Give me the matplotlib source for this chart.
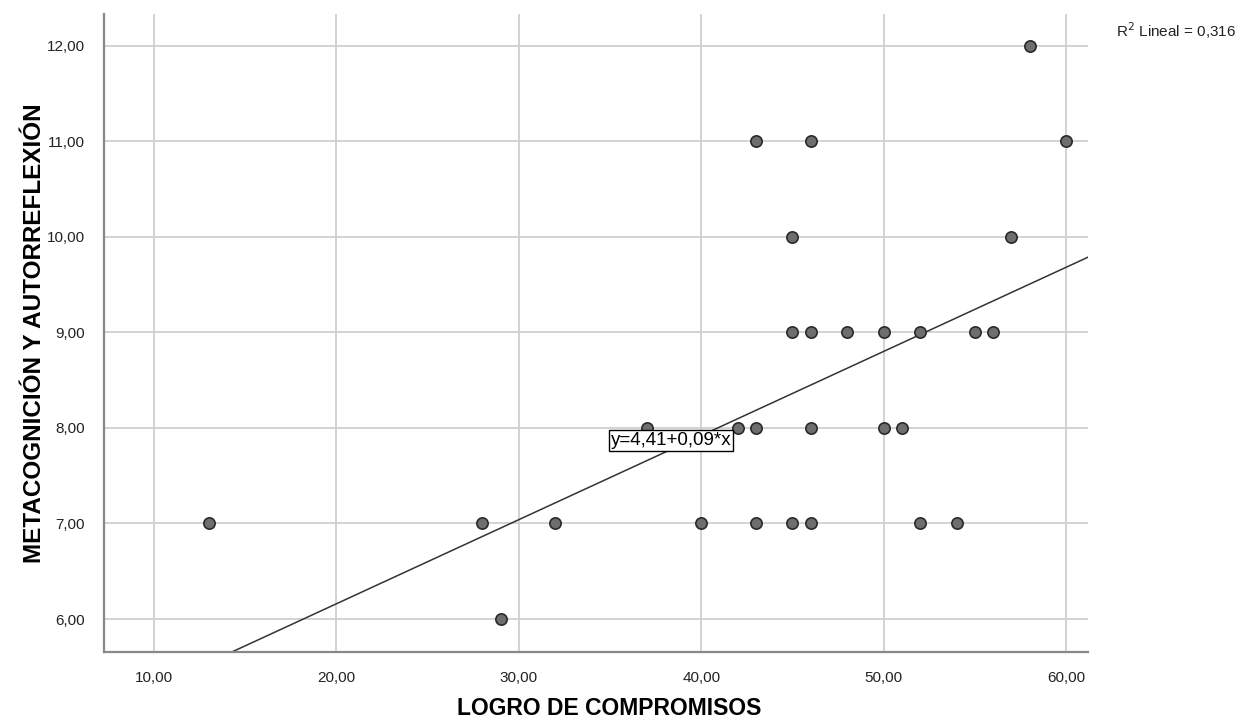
import matplotlib.pyplot as plt
import numpy as np

plt.rcParams['font.family'] = ['Liberation Sans', 'DejaVu Sans']

# Data
logro = [13, 28, 29, 32, 37, 40, 42, 43, 43, 43, 45, 45, 45, 46, 46, 46, 46,
         48, 50, 50, 51, 52, 52, 54, 55, 56, 57, 58, 60]
meta = [7, 7, 6, 7, 8, 7, 8, 8, 7, 11, 10, 9, 7, 11, 9, 8, 7,
        9, 9, 8, 8, 9, 7, 7, 9, 9, 10, 12, 11]
intercept = 4.40
slope = 0.088
x_ticks = [10, 20, 30, 40, 50, 60]
y_ticks = [6, 7, 8, 9, 10, 11, 12]

fig = plt.figure(figsize=(12.43, 7.24), dpi=100)
ax = fig.add_axes([0.0837, 0.0994, 0.7916, 0.8813])

ax.set_xlim(7.26, 61.2)
ax.set_ylim(5.655, 12.33)

ax.set_xticks(x_ticks)
ax.set_yticks(y_ticks)
ax.set_xticklabels([f"{v:.2f}".replace('.', ',') for v in x_ticks])
ax.set_yticklabels([f"{v:.2f}".replace('.', ',') for v in y_ticks])
ax.tick_params(length=0, labelsize=11, colors='#222222', pad=14)
ax.grid(True, color='#d0d0d0', linewidth=1.3)
ax.set_axisbelow(True)

for s in ['top', 'right']:
    ax.spines[s].set_visible(False)
for s in ['left', 'bottom']:
    ax.spines[s].set_color('#888888')
    ax.spines[s].set_linewidth(1.6)

# Fit line
xs = np.array([7.0, 62.0])
ax.plot(xs, intercept + slope * xs, color='#333333', linewidth=1.1, zorder=2)

ax.scatter(logro, meta, s=66, color='#6e6e6e', edgecolors='#2a2a2a',
           linewidths=1.2, zorder=3)

ax.text(35.05, 7.87, 'y=4,41+0,09*x', fontsize=13.5, ha='left', va='center',
        bbox=dict(boxstyle='square,pad=0.1', fc='white', ec='black', lw=1),
        zorder=4)

fig.text(0.898, 0.958, r'R$^2$ Lineal = 0,316', fontsize=11, ha='left',
         va='center', color='#222222')

ax.set_xlabel('LOGRO DE COMPROMISOS', fontsize=16.5, fontweight='bold')
ax.xaxis.set_label_coords(0.513, -0.071)
ax.set_ylabel('METACOGNICIÓN Y AUTORREFLEXIÓN', fontsize=17.5,
              fontweight='bold')
ax.yaxis.set_label_coords(-0.059, 0.5)

fig.savefig('out.png', dpi=100)
